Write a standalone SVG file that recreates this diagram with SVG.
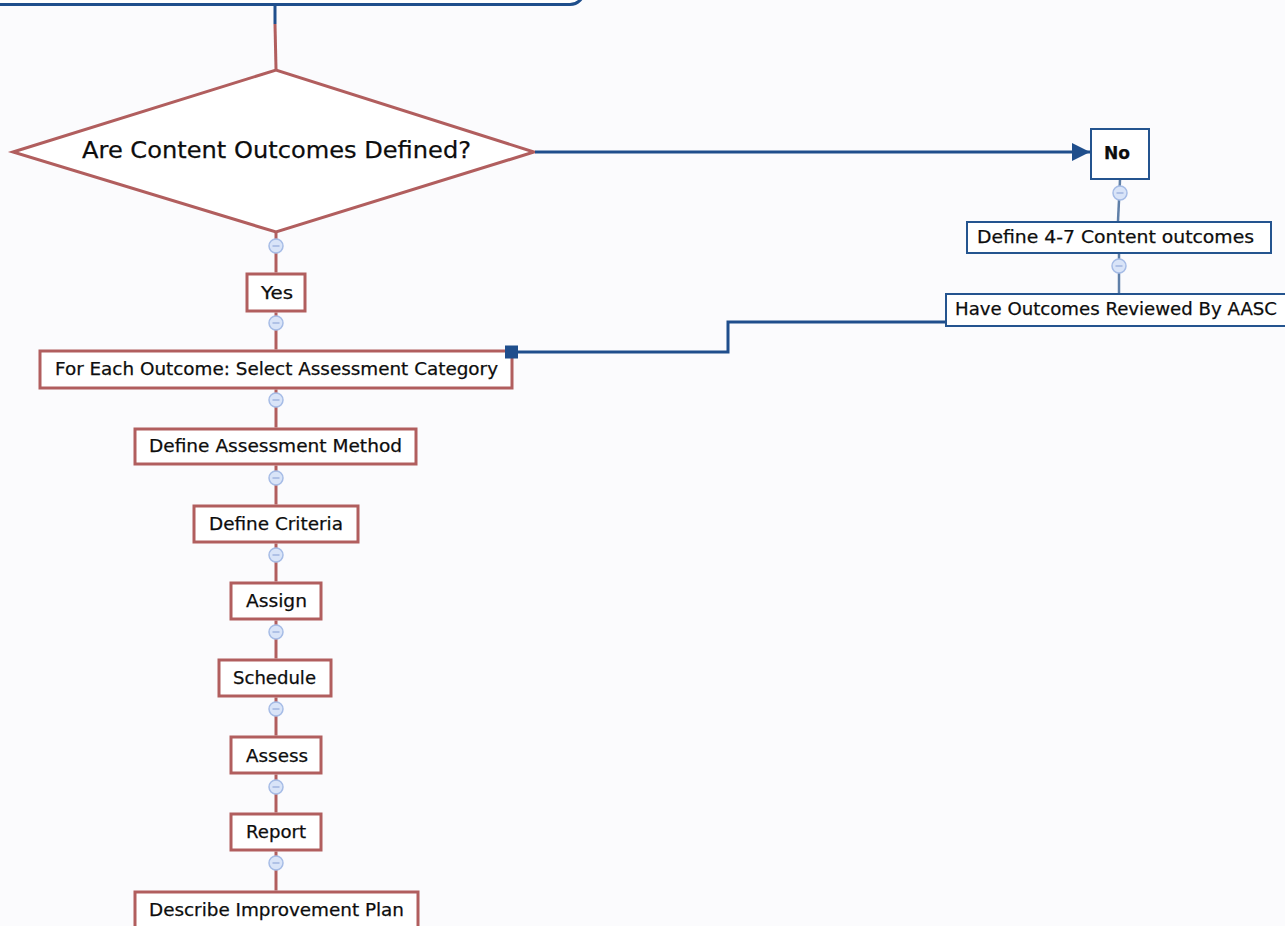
<svg xmlns="http://www.w3.org/2000/svg" width="1285" height="926" viewBox="0 0 1285 926">
<style>
  .bg{fill:#fbfbfd}
  .rbox{fill:#ffffff;stroke:#b15e5e;stroke-width:3}
  .bbox{fill:#ffffff;stroke:#24548f;stroke-width:2}
  .rline{fill:none;stroke:#b15e5e;stroke-width:3}
  .bline{fill:none;stroke:#1f4e8c;stroke-width:3}
  .bthin{fill:none;stroke:#5f7fa8;stroke-width:2.5}
  .t{font-family:"DejaVu Sans","Liberation Sans",sans-serif;font-size:18px;fill:#0d0d0d;text-anchor:middle;stroke:#0d0d0d;stroke-width:0.25}
  .big{font-size:23px}
  .bold{font-weight:bold}
  .knob circle{fill:#d9e4f8;stroke:#a6bce6;stroke-width:1.5}
  .knob line{stroke:#98aedb;stroke-width:1.3}
</style>
<defs>
  <marker id="arrow" viewBox="0 0 10 10" refX="10" refY="5" markerWidth="6" markerHeight="7" markerUnits="strokeWidth" orient="auto">
    <path d="M0,0 L10,5 L0,10 z" fill="#1f4e8c"/>
  </marker>
  <g id="knob" class="knob"><circle cx="0" cy="0" r="7"/><line x1="-3.5" y1="0" x2="3.5" y2="0"/></g>
</defs>
<rect class="bg" x="0" y="0" width="1285" height="926"/>

<g id="top-node">
  <rect x="-20" y="-60" width="604" height="64.5" rx="14" fill="#ffffff" stroke="#1f4e8c" stroke-width="3"/>
</g>

<g id="decision">
  <polygon class="rbox" points="13,152 276,70 534,152 276,232"/>
  <text class="t big" x="276.5" y="158" textLength="389" lengthAdjust="spacingAndGlyphs">Are Content Outcomes Defined?</text>
</g>

<g id="yes">
  <rect class="rbox" x="247" y="274" width="58" height="37"/>
  <text class="t" x="277" y="299" textLength="32" lengthAdjust="spacingAndGlyphs">Yes</text>
</g>
<g id="select-category">
  <rect class="rbox" x="40" y="351" width="472" height="37"/>
  <text class="t" x="276.5" y="375" textLength="443" lengthAdjust="spacingAndGlyphs">For Each Outcome: Select Assessment Category</text>
</g>
<g id="define-method">
  <rect class="rbox" x="135" y="429" width="281" height="35"/>
  <text class="t" x="275.5" y="452" textLength="253" lengthAdjust="spacingAndGlyphs">Define Assessment Method</text>
</g>
<g id="define-criteria">
  <rect class="rbox" x="194" y="506" width="164" height="36"/>
  <text class="t" x="276" y="530" textLength="134" lengthAdjust="spacingAndGlyphs">Define Criteria</text>
</g>
<g id="assign">
  <rect class="rbox" x="231" y="583" width="90" height="36"/>
  <text class="t" x="276.5" y="607" textLength="61" lengthAdjust="spacingAndGlyphs">Assign</text>
</g>
<g id="schedule">
  <rect class="rbox" x="219" y="660" width="112" height="36"/>
  <text class="t" x="274.5" y="684" textLength="83" lengthAdjust="spacingAndGlyphs">Schedule</text>
</g>
<g id="assess">
  <rect class="rbox" x="231" y="737" width="90" height="36"/>
  <text class="t" x="277" y="762" textLength="62" lengthAdjust="spacingAndGlyphs">Assess</text>
</g>
<g id="report">
  <rect class="rbox" x="231" y="814" width="90" height="36"/>
  <text class="t" x="276" y="838" textLength="60" lengthAdjust="spacingAndGlyphs">Report</text>
</g>
<g id="improvement-plan">
  <rect class="rbox" x="135" y="892" width="283" height="40"/>
  <text class="t" x="276.5" y="916" textLength="255" lengthAdjust="spacingAndGlyphs">Describe Improvement Plan</text>
</g>

<g id="no">
  <rect class="bbox" x="1091" y="129" width="58" height="50"/>
  <text class="t bold" x="1117" y="159" textLength="26" lengthAdjust="spacingAndGlyphs">No</text>
</g>
<g id="define-outcomes">
  <rect class="bbox" x="967" y="222" width="304" height="31"/>
  <text class="t" x="1115.5" y="243" textLength="277" lengthAdjust="spacingAndGlyphs">Define 4-7 Content outcomes</text>
</g>
<g id="review">
  <rect class="bbox" x="946" y="294" width="350" height="32"/>
  <text class="t" x="1116" y="315" textLength="322" lengthAdjust="spacingAndGlyphs">Have Outcomes Reviewed By AASC</text>
</g>

<g id="connectors">
  <line class="bline" x1="275" y1="5" x2="275" y2="24"/>
  <line class="rline" x1="275" y1="24" x2="276" y2="69"/>
  <line class="bline" x1="535" y1="152" x2="1090" y2="152" marker-end="url(#arrow)"/>
  <line class="rline" x1="276" y1="233" x2="276" y2="272.5"/>
  <line class="rline" x1="276" y1="312.5" x2="276" y2="349.5"/>
  <line class="rline" x1="276" y1="389.5" x2="276" y2="427.5"/>
  <line class="rline" x1="276" y1="465.5" x2="276" y2="504.5"/>
  <line class="rline" x1="276" y1="543.5" x2="276" y2="581.5"/>
  <line class="rline" x1="276" y1="620.5" x2="276" y2="658.5"/>
  <line class="rline" x1="276" y1="697.5" x2="276" y2="735.5"/>
  <line class="rline" x1="276" y1="774.5" x2="276" y2="812.5"/>
  <line class="rline" x1="276" y1="851.5" x2="276" y2="890.5"/>
  <path class="bthin" d="M1120,180 L1118,221"/>
  <path class="bthin" d="M1119,254 L1119,293"/>
  <path class="bline" d="M945,322 H728 V352 H512"/>
  <rect x="505" y="345.5" width="13" height="13" fill="#1f4e8c"/>
  <use href="#knob" x="276" y="246"/>
  <use href="#knob" x="276" y="323"/>
  <use href="#knob" x="276" y="400"/>
  <use href="#knob" x="276" y="478"/>
  <use href="#knob" x="276" y="555"/>
  <use href="#knob" x="276" y="632"/>
  <use href="#knob" x="276" y="709"/>
  <use href="#knob" x="276" y="787"/>
  <use href="#knob" x="276" y="863"/>
  <use href="#knob" x="1120" y="193"/>
  <use href="#knob" x="1119" y="266"/>
</g>
</svg>
